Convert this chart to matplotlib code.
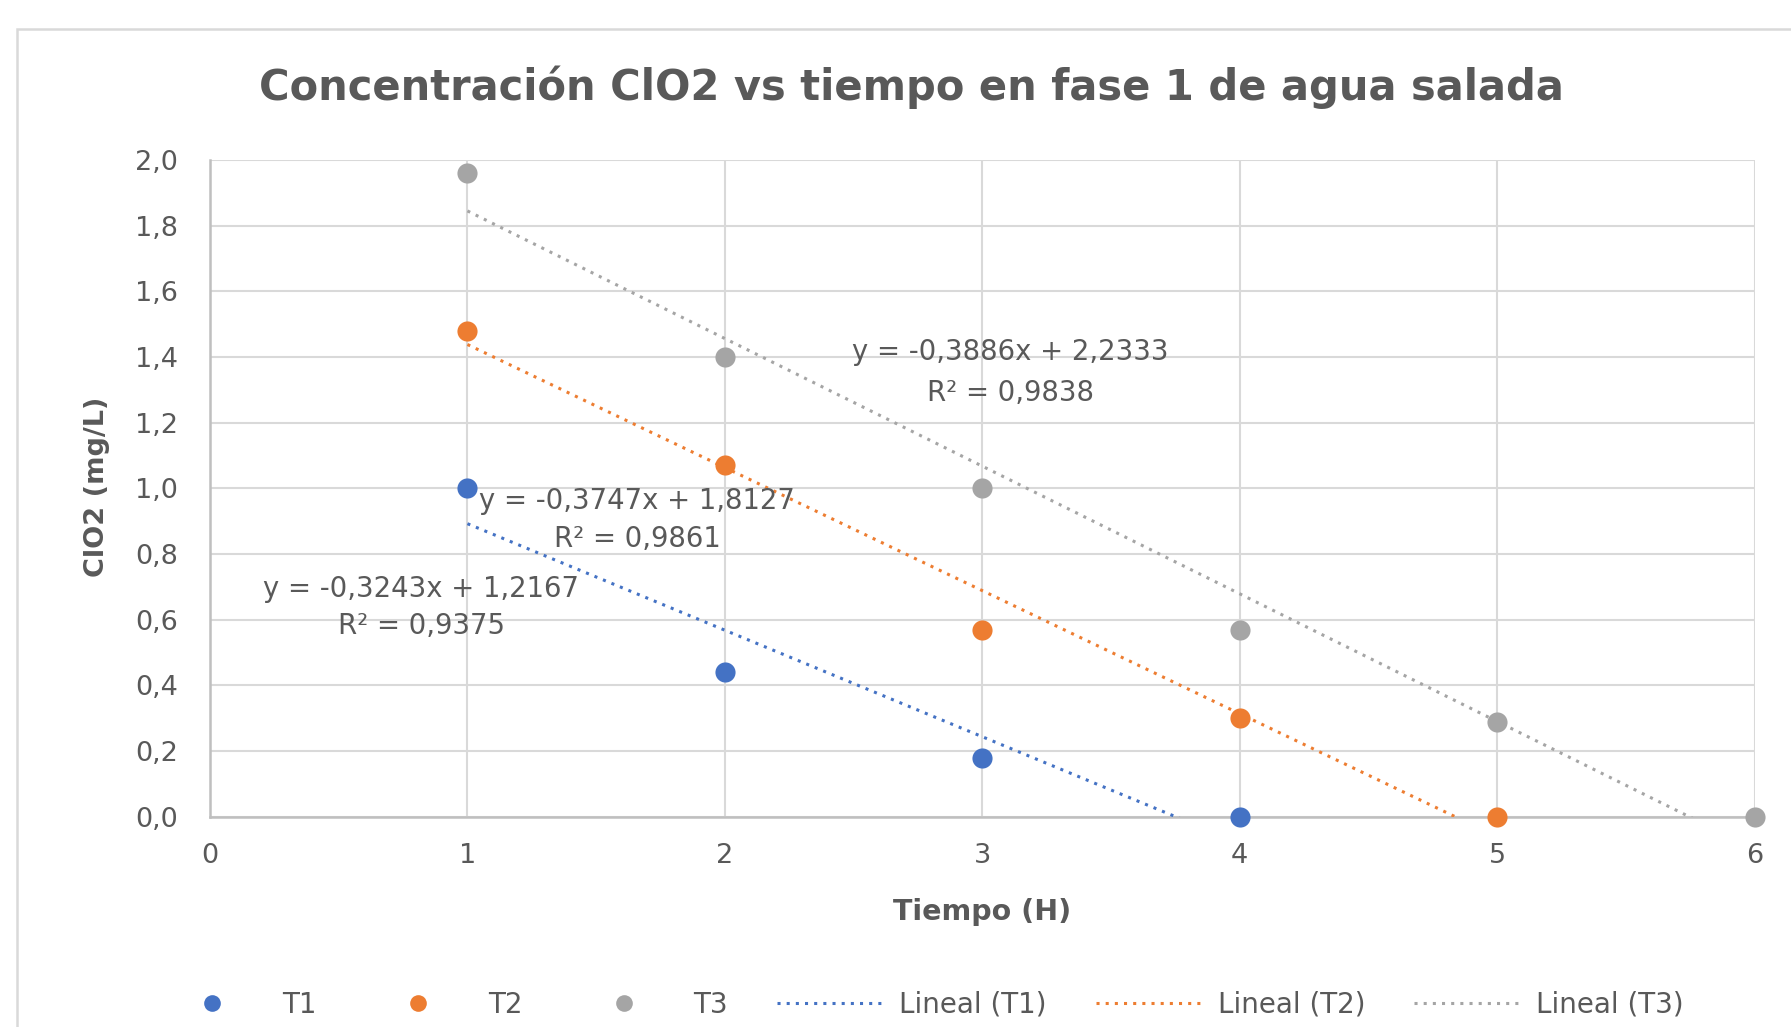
import numpy as np
import matplotlib
matplotlib.use("Agg")
import matplotlib.pyplot as plt
from matplotlib.ticker import FuncFormatter
from matplotlib.lines import Line2D
from matplotlib.patches import Rectangle

# ---------------- data ----------------
title = "Concentración ClO2 vs tiempo en fase 1 de agua salada"
x_label = "Tiempo (H)"
y_label = "ClO2 (mg/L)"
series_names = ["T1", "T2", "T3"]
t1_x = [1, 2, 3, 4]
t1_y = [1.00, 0.44, 0.18, 0.00]
t2_x = [1, 2, 3, 4, 5]
t2_y = [1.48, 1.07, 0.57, 0.30, 0.00]
t3_x = [1, 2, 3, 4, 5, 6]
t3_y = [1.96, 1.40, 1.00, 0.57, 0.29, 0.00]
slopes = [-0.3243, -0.3747, -0.3886]
intercepts = [1.2167, 1.8127, 2.2333]
r2_values = [0.9375, 0.9861, 0.9838]
x_ticks = [0, 1, 2, 3, 4, 5, 6]
y_ticks = [0.0, 0.2, 0.4, 0.6, 0.8, 1.0, 1.2, 1.4, 1.6, 1.8, 2.0]

# ---------------- style ----------------
colors = ["#4472C4", "#ED7D31", "#A5A5A5"]
text_color = "#595959"
grid_color = "#D9D9D9"
axis_color = "#BFBFBF"
plt.rcParams['font.family'] = ['DejaVu Sans']

W, H = 1791, 1027
fig = plt.figure(figsize=(W / 100, H / 100), dpi=100)
fig.patch.set_facecolor("white")

# outer chart border (extends past right and bottom edges)
top_frac = 1 - 29 / H
fig.patches.append(Rectangle((17 / W, -0.2), 1.2, top_frac + 0.2, transform=fig.transFigure,
                             fill=False, edgecolor=grid_color, linewidth=1.8, zorder=0))

x0, x1 = 210, 1754.6
y0, y1 = 816.8, 159.9
ax = fig.add_axes([x0 / W, 1 - y0 / H, (x1 - x0) / W, (y0 - y1) / H])
ax.set_xlim(0, 6)
ax.set_ylim(0, 2.0)
ax.set_xticks(x_ticks)
ax.set_yticks(y_ticks)
ax.yaxis.set_major_formatter(FuncFormatter(lambda v, p: f"{v:.1f}".replace(".", ",")))
ax.xaxis.set_major_formatter(FuncFormatter(lambda v, p: f"{v:.0f}"))
ax.grid(True, color=grid_color, linewidth=1.5, zorder=0)
ax.set_axisbelow(True)
for s in ["top", "right"]:
    ax.spines[s].set_visible(False)
for s in ["left", "bottom"]:
    ax.spines[s].set_color(axis_color)
    ax.spines[s].set_linewidth(1.8)
ax.tick_params(length=0, labelsize=19.5, labelcolor=text_color)
ax.tick_params(axis="x", pad=19)
ax.tick_params(axis="y", pad=23)

xs = [t1_x, t2_x, t3_x]
ys = [t1_y, t2_y, t3_y]
dot_style = (0, (1, 2))
for i in range(3):
    xx = np.array([min(xs[i]), max(xs[i])], dtype=float)
    ax.plot(xx, slopes[i] * xx + intercepts[i], color=colors[i], linewidth=2.2,
            linestyle=dot_style, zorder=3, dash_capstyle="butt")
for i in range(3):
    ax.plot(xs[i], ys[i], linestyle="none", marker="o", markersize=14.5,
            color=colors[i], markeredgewidth=0, zorder=4, clip_on=False)

# trendline equations
eq_pos = [(0.82, 0.695, 0.58), (1.66, 0.96, 0.845), (3.11, 1.415, 1.29)]
for i in range(3):
    eq = f"y = {slopes[i]:.4f}x + {intercepts[i]:.4f}".replace(".", ",")
    r2 = f"R² = {r2_values[i]:.4f}".replace(".", ",")
    px, py1, py2 = eq_pos[i]
    ax.text(px, py1, eq, ha="center", va="center", fontsize=19.8, color=text_color, zorder=5)
    ax.text(px, py2, r2, ha="center", va="center", fontsize=19.8, color=text_color, zorder=5)

# labels
ax.text((97 - x0) / (x1 - x0), (y0 - 487) / (y0 - y1), y_label, rotation=90,
        ha="center", va="center", fontsize=19.5, fontweight="bold", color=text_color,
        transform=ax.transAxes)
ax.text((982 - x0) / (x1 - x0), (y0 - 912) / (y0 - y1), x_label,
        ha="center", va="center", fontsize=20.5, fontweight="bold", color=text_color,
        transform=ax.transAxes)
fig.text(911 / W, 1 - 87 / H, title, ha="center", va="center", fontsize=30,
         fontweight="bold", color=text_color)

# legend
handles = []
labels = []
for i in range(3):
    handles.append(Line2D([], [], linestyle="none", marker="o", markersize=12,
                          color=colors[i], markeredgewidth=0))
    labels.append(series_names[i])
for i in range(3):
    handles.append(Line2D([], [], color=colors[i], linewidth=2.2, linestyle=dot_style))
    labels.append(f"Lineal ({series_names[i]})")
leg = fig.legend(handles, labels, loc="center", bbox_to_anchor=(922 / W, 1 - 1005 / H),
                 ncol=6, frameon=False, fontsize=20, handlelength=3.78, handletextpad=0.62,
                 columnspacing=1.76, labelcolor=text_color)

fig.savefig("out.png", dpi=100, facecolor="white")
